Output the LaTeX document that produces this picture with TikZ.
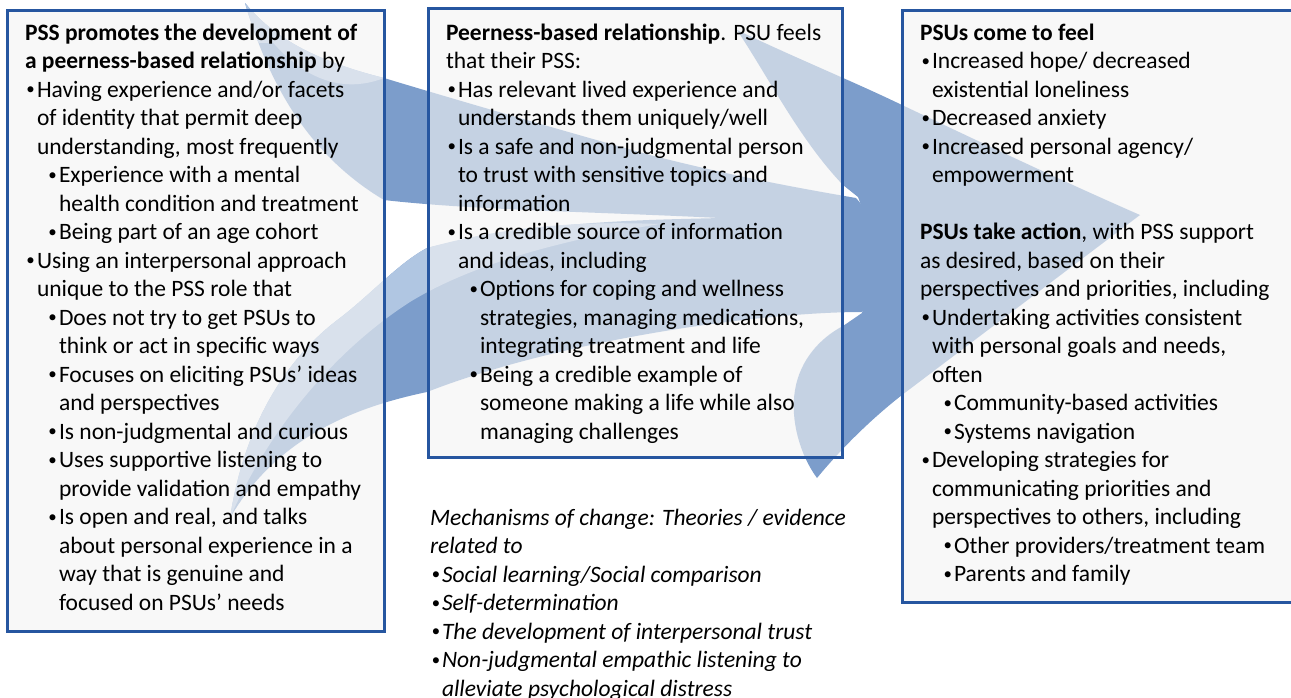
\documentclass[tikz,border=0pt]{standalone}
\usepackage{fontspec}
\setmainfont{Carlito}
\definecolor{boxblue}{RGB}{38,86,160}
\definecolor{arrowblue}{RGB}{124,157,203}
\definecolor{arrowlight}{RGB}{176,198,226}
\definecolor{boxfill}{RGB}{243,243,243}
\newcommand\dotb{\raisebox{0.1em}{\scalebox{0.72}{•}}}
\newcommand\bA{\makebox[12pt][l]{\hspace{1.5pt}\dotb}}
\newcommand\iA{\hspace*{12pt}}
\newcommand\bB{\hspace*{22pt}\makebox[12pt][l]{\hspace{1.5pt}\dotb}}
\newcommand\iB{\hspace*{34pt}}
\newcommand\pairone{(245,3)
  .. controls (275,40) and (320,62) .. (384,78)
  .. controls (450,98) and (560,130) .. (650,155)
  .. controls (740,178) and (810,190) .. (856,198)
  -- (905,255) -- (862,312)
  .. controls (760,312) and (560,340) .. (427,392)
  .. controls (350,408) and (275,440) .. (230,518)
  .. controls (245,420) and (290,355) .. (340,318)
  .. controls (370,295) and (400,262) .. (427,248)
  .. controls (540,220) and (650,220) .. (720,218)
  .. controls (600,212) and (470,210) .. (384,200)
  .. controls (300,150) and (265,70) .. (245,3) -- cycle}
\begin{document}
\begin{tikzpicture}[x=1pt,y=-1pt,
  panel/.style={draw=boxblue, line width=3pt, fill=boxfill, fill opacity=0.62},
  swoosh/.style={fill=arrowblue, draw=none},
  swooshlight/.style={fill=arrowlight, draw=none},
  txt/.style={anchor=base west, inner sep=0pt, outer sep=0pt, text=black,
    font=\fontsize{23.5}{28.5}\selectfont}]
\useasboundingbox (0,0) rectangle (1291,697);
\clip (0,0) rectangle (1291,697);
% arrows left -> middle
\path[swoosh] \pairone;
\begin{scope}
  \clip (0,0) rectangle (400,42);
  \path[swooshlight] \pairone;
\end{scope}
% lighter parts of the swooshes
\path[swooshlight] (245,3)
  .. controls (275,40) and (320,62) .. (384,78)
  .. controls (340,95) and (290,80) .. (245,3) -- cycle;
\path[swooshlight] (230,518)
  .. controls (245,420) and (290,355) .. (340,318)
  .. controls (370,295) and (400,262) .. (427,248)
  .. controls (520,222) and (600,222) .. (660,224)
  .. controls (560,240) and (470,265) .. (410,302)
  .. controls (335,350) and (268,430) .. (230,518) -- cycle;
% arrows middle -> right
\path[swoosh] (737,30)
  .. controls (800,60) and (850,80) .. (902,105)
  .. controls (980,142) and (1060,180) .. (1140,215)
  -- (902,395)
  .. controls (870,420) and (840,450) .. (817,478)
  .. controls (800,455) and (790,420) .. (795,390)
  .. controls (800,360) and (820,338) .. (843,326)
  -- (862,313) -- (880,255) -- (858,197) -- (843,185)
  .. controls (800,140) and (770,80) .. (737,30) -- cycle;
% panels
\path[panel] (7,10) rectangle (384,631);
\path[panel] (428,8) rectangle (842,457);
\path[panel] (902,10) rectangle (1300,602);
% texts
\node[txt] (ltext) at (25,40) {\parbox[t]{360pt}{\raggedright
\textbf{PSS promotes the development of}\\
\textbf{a peerness-based relationship} by\\
\bA Having experience and/or facets\\
\iA of identity that permit deep\\
\iA understanding, most frequently\\
\bB Experience with a mental\\
\iB health condition and treatment\\
\bB Being part of an age cohort\\
\bA Using an interpersonal approach\\
\iA unique to the PSS role that\\
\bB Does not try to get PSUs to\\
\iB think or act in specific ways\\
\bB Focuses on eliciting PSUs’ ideas\\
\iB and perspectives\\
\bB Is non-judgmental and curious\\
\bB Uses supportive listening to\\
\iB provide validation and empathy\\
\bB Is open and real, and talks\\
\iB about personal experience in a\\
\iB way that is genuine and\\
\iB focused on PSUs’ needs}};
\node[txt] (mtext) at (446,40) {\parbox[t]{400pt}{\raggedright
\textbf{Peerness-based relationship}. PSU feels\\
that their PSS:\\
\bA Has relevant lived experience and\\
\iA understands them uniquely/well\\
\bA Is a safe and non-judgmental person\\
\iA to trust with sensitive topics and\\
\iA information\\
\bA Is a credible source of information\\
\iA and ideas, including\\
\bB Options for coping and wellness\\
\iB strategies, managing medications,\\
\iB integrating treatment and life\\
\bB Being a credible example of\\
\iB someone making a life while also\\
\iB managing challenges}};
\node[txt] (rtext) at (920,40) {\parbox[t]{380pt}{\raggedright
\textbf{PSUs come to feel}\\
\bA Increased hope/ decreased\\
\iA existential loneliness\\
\bA Decreased anxiety\\
\bA Increased personal agency/\\
\iA empowerment\\
\mbox{}\\
\textbf{PSUs take action}, with PSS support\\
as desired, based on their\\
perspectives and priorities, including\\
\bA Undertaking activities consistent\\
\iA with personal goals and needs,\\
\iA often\\
\bB Community-based activities\\
\bB Systems navigation\\
\bA Developing strategies for\\
\iA communicating priorities and\\
\iA perspectives to others, including\\
\bB Other providers/treatment team\\
\bB Parents and family}};
\node[txt] (mech) at (430,525) {\parbox[t]{420pt}{\raggedright\itshape
Mechanisms of change: Theories / evidence\\
related to\\
\bA Social learning/Social comparison\\
\bA Self-determination\\
\bA The development of interpersonal trust\\
\bA Non-judgmental empathic listening to\\
\iA alleviate psychological distress}};
\end{tikzpicture}
\end{document}
